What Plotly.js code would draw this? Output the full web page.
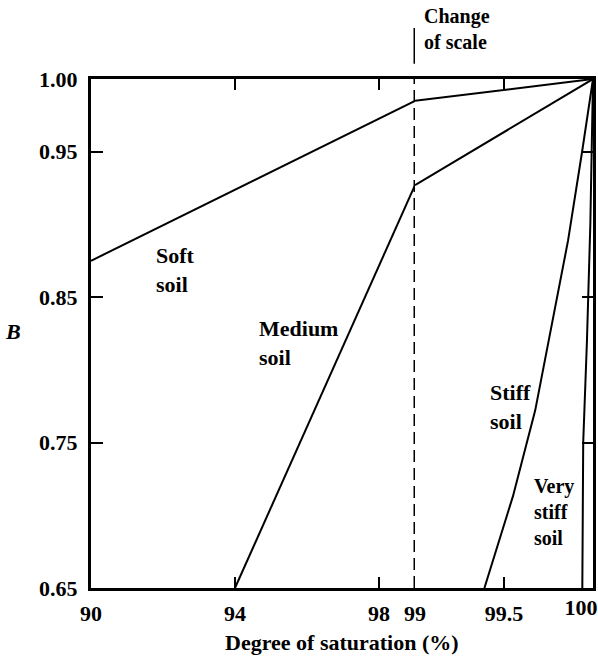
<!DOCTYPE html>
<html>
<head>
<meta charset="utf-8">
<script src="https://cdn.plot.ly/plotly-3.0.1.min.js"></script>
<style>html,body{margin:0;padding:0;background:#fff;}#chart{width:598px;height:657px;}</style>
</head>
<body>
<div id="chart"></div>
<script>
// ---- data ----
// left part of the x axis (linear scale 90–99)
const xLeftTickVals = [90, 94, 98, 99];
const xLeftTickText = ['90', '94', '98', '99'];
// right part of the x axis (expanded scale 99–100)
const xRightTickVals = [99.5];
const xRightTickText = ['99.5'];
const xEndTickVals = [100];
const xEndTickText = ['100'];
const yTickVals = [0.65, 0.75, 0.85, 0.95, 1.00];
const yTickText = ['0.65', '0.75', '0.85', '0.95', '1.00'];

const softLeftX = [90, 99];
const softLeftB = [0.875, 0.985];
const softRightX = [99, 100];
const softRightB = [0.985, 1.0];

const mediumLeftX = [94, 99];
const mediumLeftB = [0.65, 0.927];
const mediumRightX = [99, 100];
const mediumRightB = [0.927, 1.0];

const stiffX = [99.39, 99.55, 99.675, 99.76, 99.86, 99.94, 100];
const stiffB = [0.65, 0.713, 0.772, 0.827, 0.889, 0.951, 1.0];

const veryStiffX = [99.94, 99.945, 99.966, 99.985, 100];
const veryStiffB = [0.65, 0.75, 0.82, 0.90, 1.0];

const changeOfScaleX = 99;

// ---- styling ----
const FONT = 'Liberation Serif, Times New Roman, serif';
const fs = 22;
const lineStyle = {color: '#000', width: 2};
const split = 324 / 502;

function tr(x, y, xa, ya) {
  return {x: x, y: y, xaxis: xa, yaxis: ya, type: 'scatter', mode: 'lines',
          line: lineStyle, hoverinfo: 'skip', showlegend: false};
}

const data = [
  tr(softLeftX, softLeftB, 'x', 'y'),
  tr(softRightX, softRightB, 'x2', 'y2'),
  tr(mediumLeftX, mediumLeftB, 'x', 'y'),
  tr(mediumRightX, mediumRightB, 'x2', 'y2'),
  tr(stiffX, stiffB, 'x2', 'y2'),
  tr(veryStiffX, veryStiffB, 'x2', 'y2'),
  // carrier trace so the overlaid axis holding the "100" label is drawn
  {x: [], y: [], xaxis: 'x3', yaxis: 'y2', type: 'scatter', mode: 'lines',
   hoverinfo: 'skip', showlegend: false}
];

const tickFont = {family: FONT, size: fs, color: '#000', weight: 'bold'};
const txtFont = {family: FONT, size: fs, color: '#000', weight: 'bold'};

const layout = {
  width: 598, height: 657,
  margin: {l: 91, r: 5, t: 79, b: 69},
  paper_bgcolor: '#fff', plot_bgcolor: '#fff',
  showlegend: false,
  font: txtFont,
  xaxis: {
    domain: [0, split], range: [90, 99], anchor: 'y',
    tickmode: 'array', tickvals: xLeftTickVals, ticktext: xLeftTickText,
    ticks: 'inside', ticklen: 11, tickwidth: 2, tickcolor: '#000',
    showline: true, linewidth: 3, linecolor: '#000', mirror: 'ticks',
    showgrid: false, zeroline: false, tickfont: tickFont, ticklabelstandoff: 4
  },
  xaxis2: {
    domain: [split, 1], range: [99, 100], anchor: 'y2',
    tickmode: 'array', tickvals: xRightTickVals, ticktext: xRightTickText,
    ticks: 'inside', ticklen: 11, tickwidth: 2, tickcolor: '#000',
    showline: true, linewidth: 3, linecolor: '#000', mirror: 'ticks',
    showgrid: false, zeroline: false, tickfont: tickFont, ticklabelstandoff: 4
  },
  xaxis3: {
    overlaying: 'x2', anchor: 'y2', side: 'bottom', range: [99, 100],
    tickmode: 'array', tickvals: xEndTickVals, ticktext: xEndTickText,
    ticks: '', showline: false, showgrid: false, zeroline: false,
    tickfont: tickFont, ticklabelstandoff: 4, ticklabelshift: -12
  },
  yaxis: {
    domain: [0, 1], range: [0.65, 1.0], anchor: 'x',
    tickmode: 'array', tickvals: yTickVals, ticktext: yTickText,
    ticks: 'inside', ticklen: 12, tickwidth: 2, tickcolor: '#000',
    showline: true, linewidth: 3, linecolor: '#000', mirror: false,
    showgrid: false, zeroline: false, tickfont: tickFont, ticklabelstandoff: 6
  },
  yaxis2: {
    domain: [0, 1], range: [0.65, 1.0], anchor: 'x2', side: 'right', matches: 'y',
    tickmode: 'array', tickvals: yTickVals,
    ticks: 'inside', ticklen: 11, tickwidth: 2, tickcolor: '#000',
    showline: true, linewidth: 2.5, linecolor: '#000', showticklabels: false,
    showgrid: false, zeroline: false
  },
  shapes: [
    {type: 'line', xref: 'x', yref: 'paper', x0: changeOfScaleX, x1: changeOfScaleX,
     y0: 0, y1: 1, line: {color: '#000', width: 3, dash: '12px,6px'}},
    {type: 'line', xref: 'x', yref: 'paper', x0: changeOfScaleX, x1: changeOfScaleX,
     y0: 1.03, y1: 1.10, line: {color: '#000', width: 3}}
  ],
  annotations: [
    {text: 'Change<br>of scale', xref: 'x', yref: 'paper', x: changeOfScaleX, y: 1.098,
     xanchor: 'left', yanchor: 'middle', xshift: 7, align: 'left', showarrow: false,
     font: {family: FONT, size: 20, color: '#000', weight: 'bold'}},
    {text: '<i>B</i>', xref: 'paper', yref: 'paper', x: -0.155, y: 0.503,
     xanchor: 'center', yanchor: 'middle', showarrow: false, font: txtFont},
    {text: 'Degree of saturation (%)', xref: 'paper', yref: 'paper', x: 0.5, y: -0.108,
     xanchor: 'center', yanchor: 'middle', showarrow: false, font: txtFont},
    {text: 'Soft<br>soil', xref: 'x', yref: 'y', x: 91.75, y: 0.869,
     xanchor: 'left', yanchor: 'middle', align: 'left', showarrow: false, font: txtFont},
    {text: 'Medium<br>soil', xref: 'x', yref: 'y', x: 94.6, y: 0.8185,
     xanchor: 'left', yanchor: 'middle', align: 'left', showarrow: false, font: txtFont},
    {text: 'Stiff<br>soil', xref: 'x2', yref: 'y2', x: 99.41, y: 0.7745,
     xanchor: 'left', yanchor: 'middle', align: 'left', showarrow: false, font: txtFont},
    {text: 'Very<br>stiff<br>soil', xref: 'x2', yref: 'y2', x: 99.655, y: 0.702,
     xanchor: 'left', yanchor: 'middle', align: 'left', showarrow: false,
     font: {family: FONT, size: 20, color: '#000', weight: 'bold'}}
  ]
};

Plotly.newPlot('chart', data, layout, {staticPlot: true, displayModeBar: false});
</script>
</body>
</html>
